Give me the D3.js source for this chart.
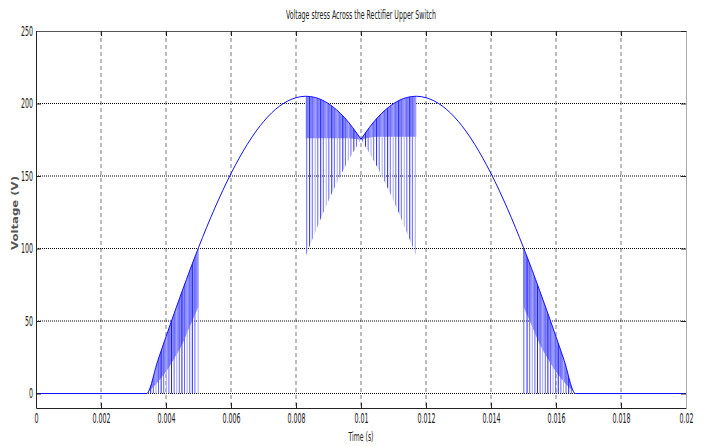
<!DOCTYPE html>
<html>
<head>
<meta charset="utf-8">
<script src="https://cdn.jsdelivr.net/npm/d3@7"></script>
<style>
  body { margin: 0; background: #fff; }
  text { font-family: "Liberation Sans Narrow", "Arial Narrow", "DejaVu Sans Condensed", sans-serif; fill: #222; }
</style>
</head>
<body>
<svg id="chart" width="704" height="447"></svg>
<script>
// Sample times (ms) and the two phase voltages (V)
const timeMs = [0, 3.4, 3.75, 4.0, 4.25, 4.5, 4.75, 5.0, 5.5, 6.0, 6.5, 6.8, 7.0, 7.5, 8.0, 8.3, 8.6, 9.0, 9.5, 10.0,
  10.5, 11.0, 11.4, 11.7, 12.0, 12.5, 13.0, 13.2, 13.5, 14.0, 14.5, 15.0, 15.25, 15.5, 15.75, 16.0, 16.25, 16.6, 20];
const phaseA = [0, 0, 22.9, 39.2, 55.2, 70.8, 86.0, 100.6, 127.8, 151.7, 171.8, 181.8, 187.5, 198.3, 204.0, 205, 204.1, 199.9, 190.1, 175.4,
  156.1, 132.9, 111.6, 94.9, 77.4, 45.6, 13.1, 0, 0, 0, 0, 0, 0, 0, 0, 0, 0, 0, 0];
const phaseB = [0, 0, 0, 0, 0, 0, 0, 0, 0, 0, 0, 0, 13.1, 45.6, 77.4, 94.9, 111.6, 132.9, 156.1, 175.4,
  190.1, 199.9, 204.1, 205, 204.0, 198.3, 187.5, 181.8, 171.8, 151.7, 127.8, 100.6, 86.0, 70.8, 55.2, 39.2, 22.9, 0, 0];
// lower edge of the dense (light blue) switching band, null where there is none
const fillFloor = [null, 0, 8, 15, 24, 34, 47, 60, null, null, null, null, null, null, null, 176, 176, 176, 176, 175,
  177, 177, 177, 177, null, null, null, null, null, null, null, 60, 47, 34, 24, 15, 8, 0, null];

// switching instants (ms)
const spikesRise = [3.45, 3.53, 3.61, 3.69, 3.77, 3.85, 3.93, 4.01, 4.09, 4.17, 4.25, 4.33, 4.41, 4.49, 4.57, 4.65, 4.73, 4.81, 4.89, 4.99];
const spikesMidL = [8.33, 8.42, 8.50, 8.59, 8.67, 8.76, 8.84, 8.93, 9.01, 9.10, 9.18, 9.27, 9.35, 9.44, 9.52, 9.61, 9.69, 9.78, 9.86, 9.95];
const spikesMidR = [10.05, 10.14, 10.22, 10.31, 10.39, 10.48, 10.56, 10.65, 10.73, 10.82, 10.90, 10.99, 11.07, 11.16, 11.24, 11.33, 11.41, 11.50, 11.58, 11.67];
const spikesFall = [15.01, 15.11, 15.19, 15.27, 15.35, 15.43, 15.51, 15.59, 15.67, 15.75, 15.83, 15.91, 15.99, 16.07, 16.15, 16.23, 16.31, 16.39, 16.47, 16.55];

const xTicks = [0, 0.002, 0.004, 0.006, 0.008, 0.01, 0.012, 0.014, 0.016, 0.018, 0.02];
const yTicks = [0, 50, 100, 150, 200, 250];

const svg = d3.select("#chart");
const plotLeft = 36, plotRight = 686, plotTop = 31, plotBottom = 408;

const x = d3.scaleLinear().domain([0, 0.02]).range([plotLeft, plotRight]);
const y = d3.scaleLinear().domain([-10, 250]).range([plotBottom, plotTop]);

const pts = timeMs.map((t, i) => ({
  t: t / 1000,
  hi: Math.max(phaseA[i], phaseB[i]),
  lo: Math.min(phaseA[i], phaseB[i]),
  floor: fillFloor[i]
}));
// split at the crossing so the two phases meet in a sharp corner
const halves = [pts.filter(d => d.t <= 0.01), pts.filter(d => d.t >= 0.01)];

// Grid
svg.append("g").selectAll("line")
  .data(xTicks.slice(1, -1)).enter().append("line")
  .attr("x1", d => x(d)).attr("x2", d => x(d))
  .attr("y1", plotTop).attr("y2", plotBottom)
  .attr("stroke", "#7a7a7a").attr("stroke-dasharray", "4,3");
svg.append("g").selectAll("line")
  .data(yTicks.slice(0, -1)).enter().append("line")
  .attr("x1", plotLeft).attr("x2", plotRight)
  .attr("y1", d => y(d)).attr("y2", d => y(d))
  .attr("stroke", "#000").attr("stroke-dasharray", "1,1");

// Clip region between the two phase envelopes
const band = d3.area().x(d => x(d.t)).y0(d => y(d.lo)).y1(d => y(d.hi)).curve(d3.curveMonotoneX);
const clip = svg.append("clipPath").attr("id", "gap");
halves.forEach(h => clip.append("path").attr("d", band(h)));

// Dense switching fill
const fill = d3.area()
  .defined(d => d.floor !== null)
  .x(d => x(d.t)).y0(d => y(d.floor)).y1(d => y(d.hi))
  .curve(d3.curveMonotoneX);
halves.forEach(h => svg.append("path").attr("d", fill(h))
  .attr("fill", "#8a8aff").attr("clip-path", "url(#gap)"));

// Switching spikes
const allSpikes = [].concat(spikesRise, spikesMidL, spikesMidR, spikesFall);
svg.append("g").attr("clip-path", "url(#gap)")
  .selectAll("line").data(allSpikes).enter().append("line")
  .attr("x1", d => x(d / 1000)).attr("x2", d => x(d / 1000))
  .attr("y1", y(250)).attr("y2", y(-10))
  .attr("stroke", (d, i) => i % 4 === 1 ? "#2020ff" : (i % 4 === 3 ? "#a8a8ff" : "#6464ff"))
  .attr("stroke-width", 1);

// Outer envelope
const upper = d3.line().x(d => x(d.t)).y(d => y(d.hi)).curve(d3.curveMonotoneX);
halves.forEach(h => svg.append("path").attr("d", upper(h))
  .attr("fill", "none").attr("stroke", "#1010ff").attr("stroke-width", 1));

// Axes
const fmt = d => String(+d.toFixed(3));
const squeeze = g => g.selectAll("text")
  .attr("transform", "scale(0.5,1)")
  .attr("x", function() { return (+d3.select(this).attr("x") || 0) * 2; })
  .style("font-size", "14px");

const gx = svg.append("g").attr("transform", `translate(0,${plotBottom})`)
  .call(d3.axisBottom(x).tickValues(xTicks).tickFormat(fmt).tickSize(-5).tickSizeOuter(0).tickPadding(5));
squeeze(gx);
const gy = svg.append("g").attr("transform", `translate(${plotLeft},0)`)
  .call(d3.axisLeft(y).tickValues(yTicks).tickSize(-5).tickSizeOuter(0).tickPadding(3));
squeeze(gy);
const gt = svg.append("g").attr("transform", `translate(0,${plotTop})`)
  .call(d3.axisTop(x).tickValues(xTicks).tickFormat("").tickSize(-5).tickSizeOuter(0));
const gr = svg.append("g").attr("transform", `translate(${plotRight},0)`)
  .call(d3.axisRight(y).tickValues(yTicks).tickFormat("").tickSize(-5).tickSizeOuter(0));

[gx, gy].forEach(g => g.select(".domain").attr("stroke", "#222"));
gt.select(".domain").attr("stroke", "#555");
gr.select(".domain").attr("stroke", "#aaa");
[gx, gy, gt, gr].forEach(g => g.selectAll(".tick line").attr("stroke", "#222"));

// Titles
svg.append("text").attr("x", 361).attr("y", 19).attr("text-anchor", "middle")
  .attr("textLength", 150).attr("lengthAdjust", "spacingAndGlyphs")
  .style("font-size", "13px").text("Voltage stress Across the Rectifier Upper Switch");
svg.append("text").attr("x", 361).attr("y", 441).attr("text-anchor", "middle")
  .attr("textLength", 25).attr("lengthAdjust", "spacingAndGlyphs")
  .style("font-size", "12px").text("Time (s)");
svg.append("text").attr("transform", "translate(18,213) rotate(-90)").attr("text-anchor", "middle")
  .attr("textLength", 74).attr("lengthAdjust", "spacingAndGlyphs")
  .style("font-family", "DejaVu Sans").style("font-size", "9px").style("font-weight", "bold")
  .style("fill", "#555").text("Voltage (V)");
</script>
</body>
</html>
